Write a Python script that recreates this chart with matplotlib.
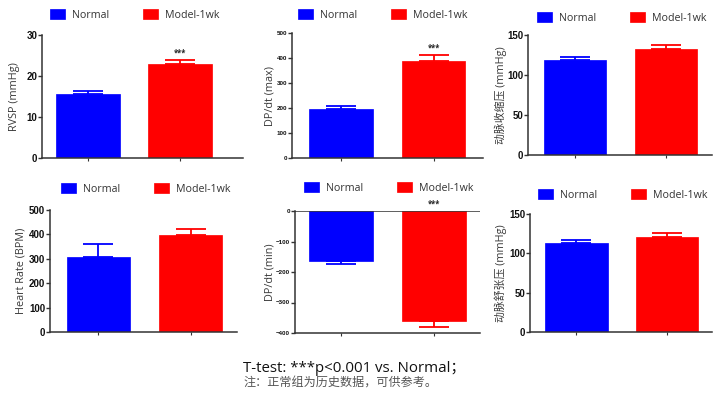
import matplotlib
matplotlib.use('agg')
from matplotlib import pyplot as plt
import numpy as np

plt.rcParams['font.family'] = ['Open Sans', 'Noto Sans CJK SC', 'DejaVu Sans']

groups = ['Normal', 'Model-1wk']
colors_ = ['#0000ff', '#ff0000']

rvsp = [15.6, 22.9]
rvsp_err = [0.7, 0.9]
dpdt_max = [196, 390]
dpdt_max_err = [11, 22]
sbp = [119, 132.5]
sbp_err = [4, 5]
heart_rate = [308, 396]
heart_rate_err = [51, 25]
dpdt_min = [-163, -362]
dpdt_min_err = [11, 18]
dbp = [113, 121]
dbp_err = [4.3, 4.6]

W, H = 720, 399
fig = plt.figure(figsize=(W / 100, H / 100), dpi=100)
AX_COL = '#333333'


def px_axes(l, t, r, b):
    return fig.add_axes([l / W, 1 - b / H, (r - l) / W, (b - t) / H])


def bar_panel(box, vals, errs, ylim, yticks, ylabel, label_x, legend_xy,
              xlim, tick_fs=7, star=False):
    l, t, r, b = box
    ax = px_axes(l, t, r, b)
    vals = np.array(vals, dtype=float)
    errs = np.array(errs, dtype=float)
    x = np.arange(len(vals))
    bars = ax.bar(x, vals, width=0.69, color=colors_, edgecolor=colors_,
                  linewidth=0.5, label=groups, zorder=2)
    lower = np.where(vals < 0, errs, 0)
    upper = np.where(vals > 0, errs, 0)
    for i in range(len(vals)):
        ax.errorbar(x[i], vals[i], yerr=[[lower[i]], [upper[i]]], fmt='none',
                    ecolor=colors_[i], elinewidth=1.3, capsize=11,
                    capthick=1.3, zorder=3)
    ax.set_xlim(*xlim)
    ax.set_ylim(*ylim)
    ax.set_yticks(yticks)
    ax.set_xticks(x)
    ax.set_xticklabels([])
    for s in ['top', 'right']:
        ax.spines[s].set_visible(False)
    for s in ['left', 'bottom']:
        ax.spines[s].set_color(AX_COL)
        ax.spines[s].set_linewidth(1.1)
    ax.tick_params(axis='y', direction='out', length=3, width=1,
                   color=AX_COL, pad=0.5)
    ax.tick_params(axis='x', direction='out', length=2.5, width=0.8,
                   color=AX_COL)
    for lab in ax.get_yticklabels():
        lab.set_fontfamily('Liberation Sans')
        lab.set_fontweight('bold')
        lab.set_fontsize(tick_fs)
        lab.set_color('#111111')
    ax.set_ylabel(ylabel, fontsize=7.8, color='#3a3a3a')
    ax.yaxis.set_label_coords((label_x - l) / (r - l), 0.5)
    if ylim[1] <= 0:
        ax.axhline(0, color=AX_COL, linewidth=1.1, zorder=4)
    if star:
        top = max(0.0, (vals + upper)[1])
        ax.annotate('***', (x[1], top), xytext=(0, 2),
                    textcoords='offset points', ha='center', va='bottom',
                    fontsize=5.5, fontweight='bold', color='#222222')
    ax.legend(handles=bars, labels=groups, loc='center', ncol=2,
              bbox_to_anchor=(legend_xy[0] / W, 1 - legend_xy[1] / H),
              bbox_transform=fig.transFigure, frameon=False, fontsize=7.7,
              handlelength=1.4, handleheight=0.95, handletextpad=0.65,
              columnspacing=3.2, labelcolor='#333333')
    return ax


bar_panel((42, 35, 243, 158), rvsp, rvsp_err, (0, 30), [0, 10, 20, 30],
          'RVSP (mmHg)', 20, (135, 15), (-0.495, 1.68), star=True)
bar_panel((292, 33, 483, 158), dpdt_max, dpdt_max_err, (0, 500),
          [0, 100, 200, 300, 400, 500], 'DP/dt (max)', 275, (383, 15),
          (-0.53, 1.535), tick_fs=4.5, star=True)
bar_panel((528, 35, 712, 155), sbp, sbp_err, (0, 150), [0, 50, 100, 150],
          '动脉收缩压 (mmHg)', 507, (622, 18), (-0.52, 1.51))
bar_panel((50, 210, 237, 332), heart_rate, heart_rate_err, (0, 500),
          [0, 100, 200, 300, 400, 500], 'Heart Rate (BPM)', 27, (146, 189),
          (-0.527, 1.505))
bar_panel((295, 211, 480, 333), dpdt_min, dpdt_min_err, (-400, 0),
          [-400, -300, -200, -100, 0], 'DP/dt (min)', 275, (389, 188),
          (-0.5, 1.5), tick_fs=4.5, star=True)
bar_panel((530, 214, 712, 332), dbp, dbp_err, (0, 150), [0, 50, 100, 150],
          '动脉舒张压 (mmHg)', 507, (623, 195), (-0.514, 1.5))

fig.text(243 / W, 1 - 368 / H, 'T-test: ***p<0.001 vs. Normal；',
         ha='left', va='center', fontsize=10.8, color='#111111')
fig.text(243 / W, 1 - 383 / H, '注：正常组为历史数据，可供参考。',
         ha='left', va='center', fontsize=8.7, color='#555555',
         family=['Noto Sans CJK SC'], style='italic')

fig.savefig('out.png', dpi=100)
plt.close(fig)
